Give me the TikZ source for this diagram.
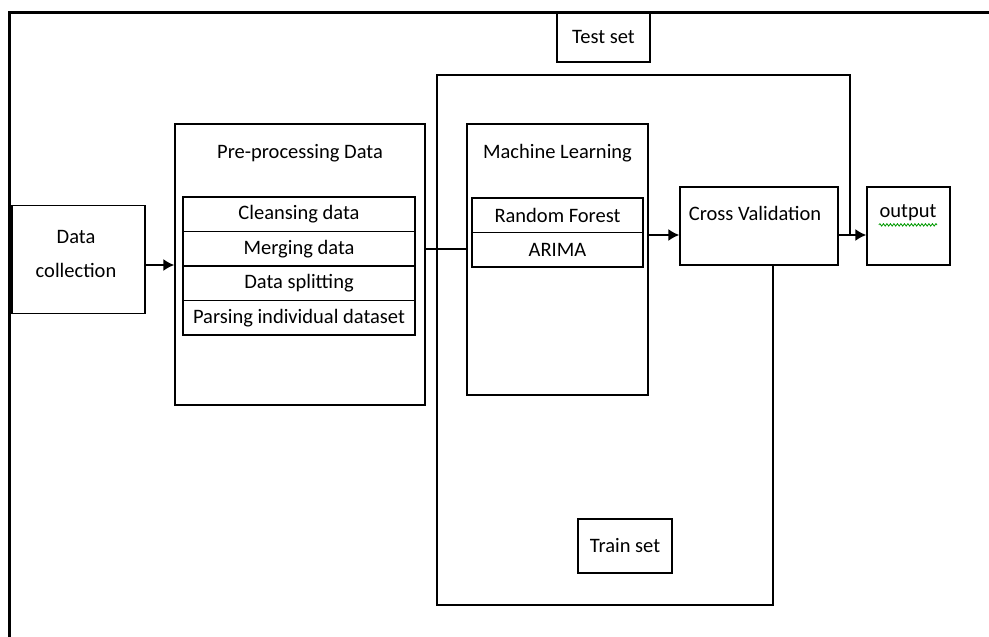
\documentclass[tikz,border=0pt]{standalone}
\usepackage{fontspec}
\setmainfont{Carlito}
\usetikzlibrary{arrows.meta,decorations.pathmorphing}
\tikzset{
  box/.style={draw, line width=1.5pt, inner sep=0pt},
  lbl/.style={font=\fontsize{20.5}{34}\selectfont, inner sep=0pt, align=center},
  rowbox/.style={box, minimum width=232, minimum height=34.5, font=\fontsize{20.5}{22}\selectfont},
  mlrow/.style={box, minimum width=171, minimum height=34.5, font=\fontsize{20.5}{22}\selectfont},
}
\begin{document}
\begin{tikzpicture}[>={Latex[length=11pt,width=12pt]}, x=1pt, y=-1pt, line width=1.5pt]
\useasboundingbox (0,0) rectangle (989,637);
\draw[line width=3pt](9,637)--(9,12)--(989,12);
% boxes
\node[box, minimum width=133, minimum height=108](collect) at (78.5,259.5){};
\node[lbl](collecttxt) at (76,254){Data\\collection};
\node[box, minimum width=250, minimum height=281](prep) at (300,264.5){};
\node[lbl](preptitle) at (300,153){Pre-processing Data};
\node[rowbox](cleanse) at (299,214.25){Cleansing data};
\node[rowbox](merge) at (299,248.75){Merging data};
\node[rowbox](split) at (299,283.25){Data splitting};
\node[rowbox](parse) at (299,317.75){Parsing individual dataset};
\node[box, minimum width=181, minimum height=271](ml) at (557.5,259.5){};
\node[lbl](mltitle) at (557.5,153){Machine Learning};
\node[mlrow](rf) at (557.5,215){Random Forest};
\node[mlrow](arima) at (557.5,249.5){ARIMA};
\node[box, minimum width=158, minimum height=78](cv) at (759,226){};
\node[lbl](cvtxt) at (755,213){Cross Validation};
\node[box, minimum width=83, minimum height=78](out) at (908.5,226){};
\node[lbl](outtxt) at (908,213){output};
\draw[green!60!black, line width=0.8pt, decoration={snake, amplitude=1.2pt, segment length=3.5pt}, decorate]
  ([yshift=-3pt]outtxt.south west)--([yshift=-3pt]outtxt.south east);
\node[box, minimum width=93, minimum height=50](test) at (603.5,37){};
\node[lbl](testtxt) at (test){Test set};
\node[box, minimum width=94, minimum height=54](train) at (625,546){};
\node[lbl](traintxt) at (train){Train set};
% connectors
\coordinate(feed) at (0,265);
\coordinate(flow) at (0,235);
\coordinate(fork) at (437,0);
\coordinate(testtop) at (850,75);
\coordinate(trainbot) at (773,605);
\draw[->](collect.east |- feed)--(prep.west |- feed);
\draw(prep.east |- merge)--(ml.west |- merge);
\draw[->](ml.east |- flow)--(cv.west |- flow);
\draw[->](cv.east |- flow)--(out.west |- flow);
\draw(fork |- merge)|-(testtop)--(testtop |- flow);
\draw(fork |- merge)|-(trainbot)--(trainbot |- cv.south);
\end{tikzpicture}
\end{document}
